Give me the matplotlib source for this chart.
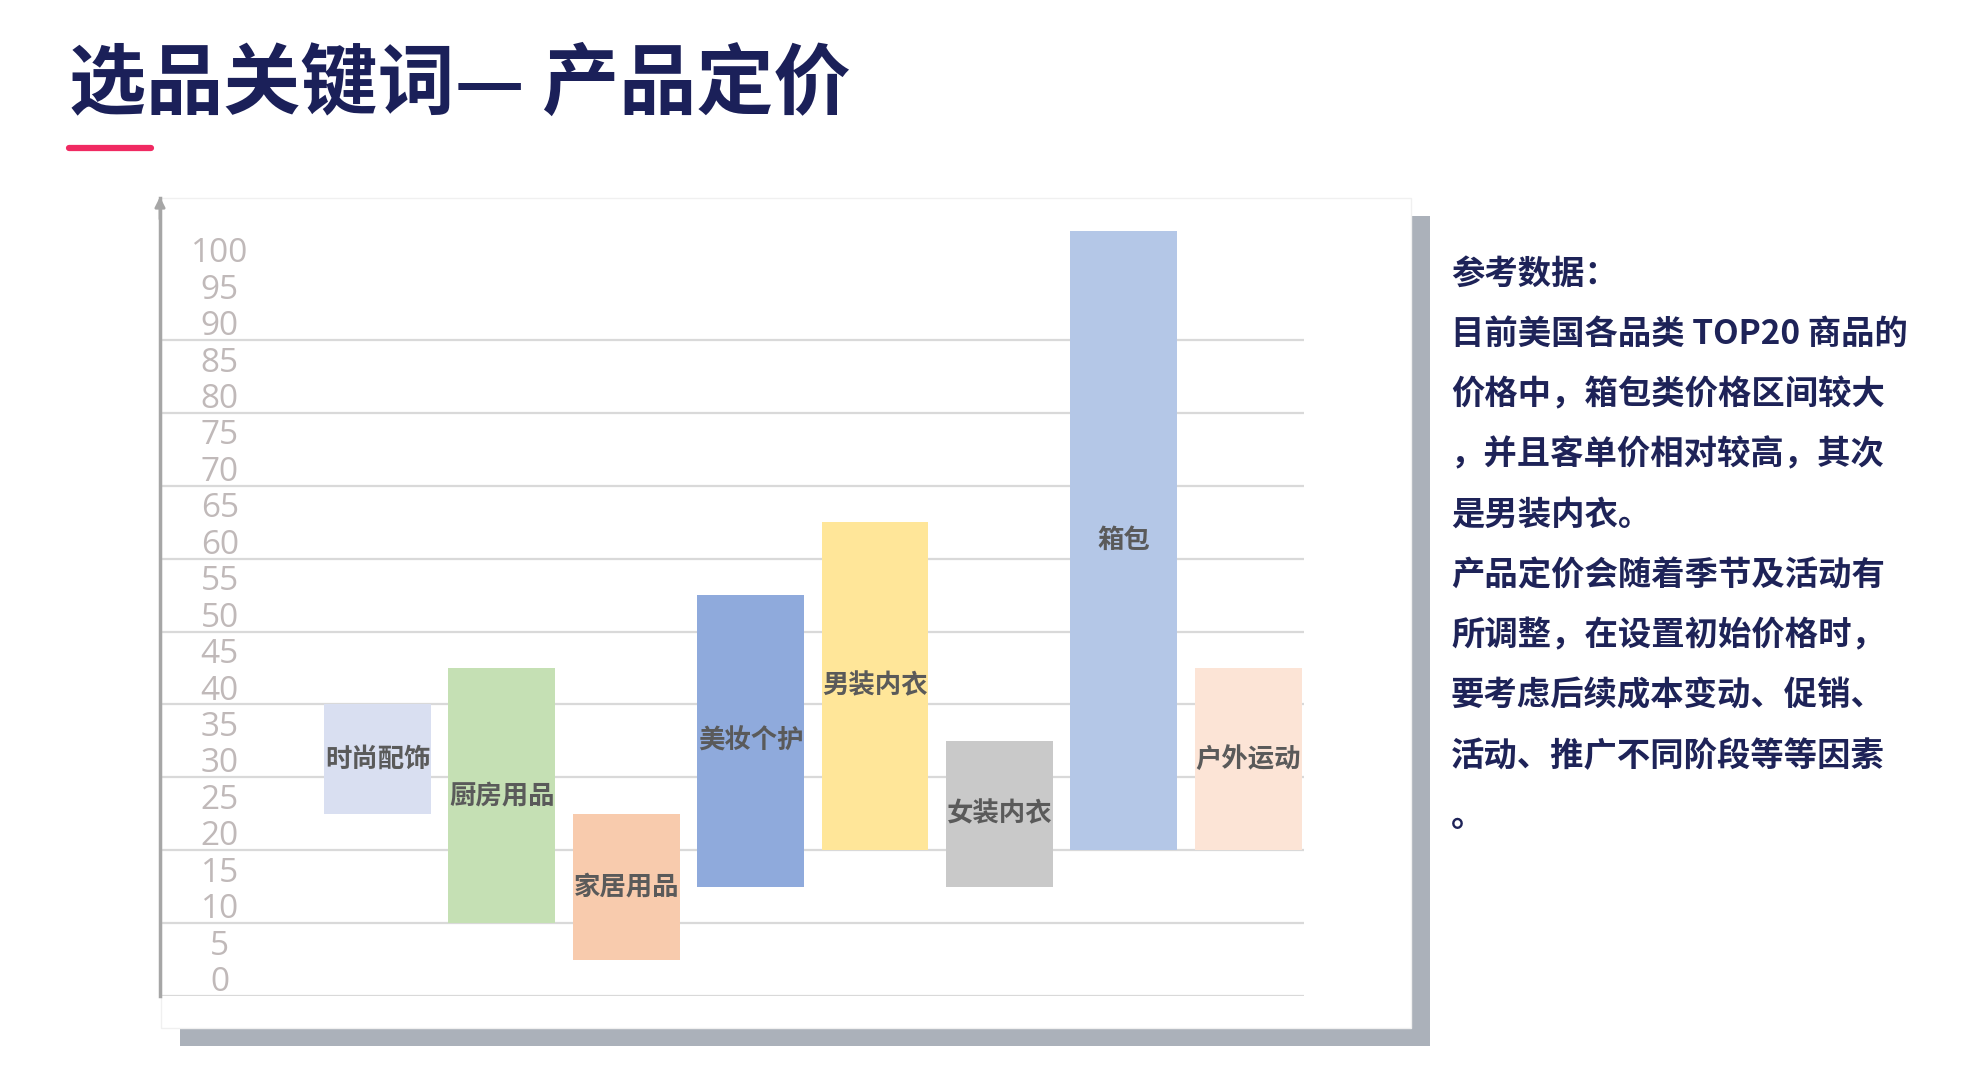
import matplotlib.pyplot as plt
import numpy as np
from matplotlib.patches import Rectangle
from matplotlib.lines import Line2D

plt.rcParams['font.family'] = ['Noto Sans CJK SC', 'DejaVu Sans']

# price ranges of TOP20 items per category
categories = ['时尚配饰', '厨房用品', '家居用品', '美妆个护', '男装内衣', '女装内衣', '箱包', '户外运动']
low = [25, 10, 5, 15, 20, 15, 20, 20]
high = [40, 45, 25, 55, 65, 35, 105, 45]
colors = ['#d9dff1', '#c5e0b4', '#f8cbad', '#8faadc', '#ffe699', '#c9c9c9', '#b4c7e7', '#fce4d6']

tick_values = np.arange(0, 101, 5)
grid_values = np.arange(0, 100, 10)
label_shift = 2.4  # the pasted tick labels sit a bit above the gridlines

title = '选品关键词— 产品定价'
notes = ['参考数据：',
         '目前美国各品类 TOP20 商品的',
         '价格中，箱包类价格区间较大',
         '，并且客单价相对较高，其次',
         '是男装内衣。',
         '产品定价会随着季节及活动有',
         '所调整，在设置初始价格时，',
         '要考虑后续成本变动、促销、',
         '活动、推广不同阶段等等因素',
         '。']

W, H = 1970, 1087
fig = plt.figure(figsize=(W / 100, H / 100), dpi=100)

# card with drop shadow
fig.add_artist(Rectangle((180 / W, 1 - 1046 / H), 1250 / W, 830 / H, transform=fig.transFigure,
                         facecolor='#abb1ba', edgecolor='none', zorder=0))
fig.add_artist(Rectangle((161 / W, 1 - 1028 / H), 1250 / W, 830 / H, transform=fig.transFigure,
                         facecolor='white', edgecolor='#f0f0f0', lw=1, zorder=0.5))

ax = fig.add_axes([160 / W, 1 - 996 / H, 1144 / W, 798 / H])
ax.set_zorder(1)
ax.set_facecolor('none')

x = np.arange(len(categories))
heights = np.array(high) - np.array(low)
ax.bar(x, heights, bottom=low, width=0.86, color=colors, zorder=2)
for i, (cat, lo, hi) in enumerate(zip(categories, low, high)):
    ax.text(i, (lo + hi) / 2, cat, ha='center', va='center', fontsize=19,
            color='#5a5a5a', fontweight='bold', zorder=3)

for g in grid_values:
    ax.axhline(g, color='#d9d9d9', lw=1.6, zorder=1)

ax.set_xlim(-1.75, 7.45)
ax.set_ylim(0, 109.5)
ax.set_xticks([])
ax.set_yticks(tick_values + label_shift, labels=[str(v) for v in tick_values])
ax.tick_params(axis='y', length=0, pad=-43, labelsize=24, labelcolor='#c0b9b9')
for lab in ax.get_yticklabels():
    lab.set_ha('center')
    lab.set_fontfamily('Open Sans')

for s in ['top', 'right', 'bottom']:
    ax.spines[s].set_visible(False)
ax.spines['left'].set_color('#a6a6a6')
ax.spines['left'].set_linewidth(2.5)
ax.annotate('', xy=(0, 1.005), xytext=(0, 0.97), xycoords='axes fraction',
            arrowprops=dict(arrowstyle='-|>', color='#a6a6a6', lw=2, mutation_scale=15))

# title and accent line
fig.text(69 / W, 1 - 85 / H, title, fontsize=55.5, fontweight='bold', color='#1b2059',
         ha='left', va='center')
fig.add_artist(Line2D([69 / W, 151 / W], [1 - 148 / H] * 2, transform=fig.transFigure,
                      color='#f02a62', lw=4.5, solid_capstyle='round'))

# side notes
for k, line in enumerate(notes):
    fig.text(1451 / W, 1 - (274 + k * 60.3) / H, line, fontsize=24, fontweight='bold',
             color='#1e2358', ha='left', va='center')

fig.savefig('out.png', dpi=100)
